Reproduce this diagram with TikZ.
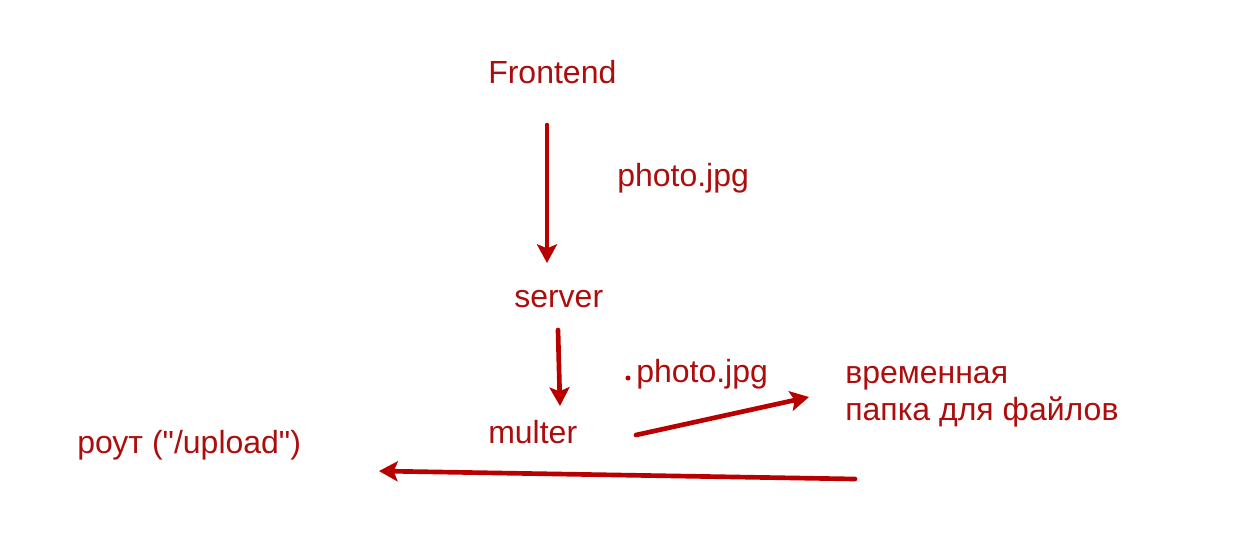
\documentclass[tikz,border=0pt]{standalone}
\usepackage{fontspec}
\setmainfont{Liberation Sans}[Ligatures=TeXOff]
\usetikzlibrary{arrows.meta}
\definecolor{labelred}{RGB}{172,14,14}
\definecolor{arrowred}{RGB}{184,0,0}
\tikzset{
  label text/.style={text=labelred, inner sep=0, anchor=base west,
    font=\fontsize{24}{27.75}\selectfont, align=left},
  flow/.style={draw=arrowred, line width=3.5pt, line cap=round,
    -{Stealth[length=14pt, width=15pt, inset=3pt]}}
}
\begin{document}
\begin{tikzpicture}[x=0.75pt, y=-0.75pt]
    \useasboundingbox [fill=white] (0, 0) rectangle (1241, 551);
    % labels
    \node [label text] (front) at (488, 83) {Frontend};
    \node [label text] (file1) at (617, 186) {photo.jpg};
    \node [label text] (server) at (514, 307) {server};
    \node [label text] (file2) at (636, 382) {photo.jpg};
    \node [label text] (multer) at (488, 443) {multer};
    \node [label text] (tmp) at (845, 420) {временная\\папка для файлов};
    \node [label text] (route) at (77, 453) {роут ("/upload")};
    %
    \fill [color=arrowred] (628, 378) circle (2.5);
    % arrow ends
    \coordinate (a1) at (547, 125);
    \coordinate (b1) at (547, 263);
    \coordinate (a2) at (558, 330);
    \coordinate (b2) at (560, 406);
    \coordinate (a3) at (636, 435);
    \coordinate (b3) at (809, 397);
    \coordinate (a4) at (855, 479);
    \coordinate (b4) at (379, 471);
    %
    \draw [flow] (a1) -- (b1);
    \draw [flow] (a2) -- (b2);
    \draw [flow] (a3) -- (b3);
    \draw [flow] (a4) -- (b4);
  \end{tikzpicture}
\end{document}
